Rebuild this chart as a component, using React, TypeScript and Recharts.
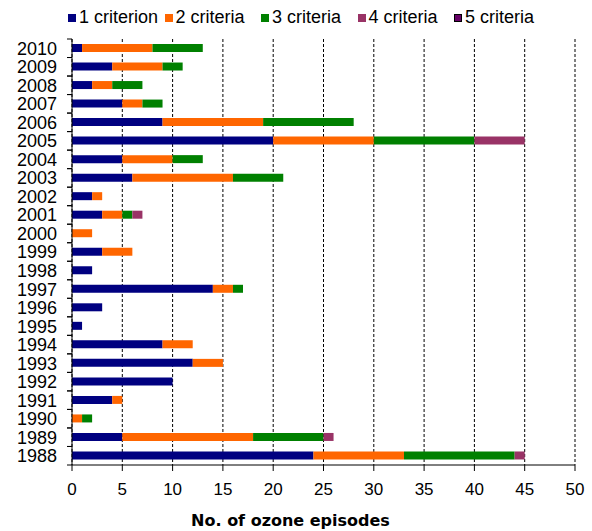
import React from "react";
import {
  BarChart,
  Bar,
  XAxis,
  YAxis,
  CartesianGrid,
} from "recharts";

const YEARS = [
  "1988", "1989", "1990", "1991", "1992", "1993", "1994", "1995", "1996", "1997", "1998", "1999",
  "2000", "2001", "2002", "2003", "2004", "2005", "2006", "2007", "2008", "2009", "2010",
];
const ONE = [24, 5, 0, 4, 10, 12, 9, 1, 3, 14, 2, 3, 0, 3, 2, 6, 5, 20, 9, 5, 2, 4, 1];
const TWO = [9, 13, 1, 1, 0, 3, 3, 0, 0, 2, 0, 3, 2, 2, 1, 10, 5, 10, 10, 2, 2, 5, 7];
const THREE = [11, 7, 1, 0, 0, 0, 0, 0, 0, 1, 0, 0, 0, 1, 0, 5, 3, 10, 9, 2, 3, 2, 5];
const FOUR = [1, 1, 0, 0, 0, 0, 0, 0, 0, 0, 0, 0, 0, 1, 0, 0, 0, 5, 0, 0, 0, 0, 0];
const FIVE = [0, 0, 0, 0, 0, 0, 0, 0, 0, 0, 0, 0, 0, 0, 0, 0, 0, 0, 0, 0, 0, 0, 0];
const X_TICKS = [0, 5, 10, 15, 20, 25, 30, 35, 40, 45, 50];

const SERIES = [
  { key: "c1", name: "1 criterion", color: "#000080", values: ONE },
  { key: "c2", name: "2 criteria", color: "#FF6600", values: TWO },
  { key: "c3", name: "3 criteria", color: "#008000", values: THREE },
  { key: "c4", name: "4 criteria", color: "#993366", values: FOUR },
  { key: "c5", name: "5 criteria", color: "#660066", values: FIVE },
];

const data = YEARS.map((year, i) => {
  const row: Record<string, string | number> = { year };
  SERIES.forEach((s) => (row[s.key] = s.values[i]));
  return row;
});

const W = 592;
const H = 531;
const M = { top: 39, right: 17, bottom: 0, left: 0 };
const Y_W = 72;
const X_H = 66;
const AXIS_X = M.left + Y_W;
const PLOT_H = H - M.top - M.bottom - X_H;
const BAND = PLOT_H / YEARS.length;
const FONT = "'Liberation Sans', Arial, sans-serif";

function YearTick(props: any) {
  const { y, payload } = props;
  return (
    <g>
      <line x1={AXIS_X - 5} x2={AXIS_X} y1={y - BAND / 2} y2={y - BAND / 2} stroke="#000" />
      <line x1={AXIS_X - 5} x2={AXIS_X} y1={y + BAND / 2} y2={y + BAND / 2} stroke="#000" />
      <text x={AXIS_X - 15} y={y} dy="0.36em" textAnchor="end" fontSize={18} fontFamily={FONT} fill="#000">
        {payload.value}
      </text>
    </g>
  );
}

function AxisTitle(props: any) {
  const { viewBox } = props;
  return (
    <text
      x={viewBox.x + viewBox.width / 2 - 33}
      y={viewBox.y + viewBox.height - 5}
      textAnchor="middle"
      fontSize={16}
      fontWeight="bold"
      fontFamily="'DejaVu Sans', Verdana, sans-serif"
      fill="#000"
    >
      No. of ozone episodes
    </text>
  );
}

export default function App() {
  return (
    <div style={{ position: "absolute", left: 0, top: 0, width: W, height: H, background: "#fff" }}>
      <div
        style={{
          position: "absolute",
          left: 68,
          top: 7,
          display: "flex",
          alignItems: "center",
          fontFamily: FONT,
          fontSize: 18,
          lineHeight: "21px",
          color: "#000",
        }}
      >
        {SERIES.map((s) => (
          <div key={s.key} style={{ display: "flex", alignItems: "center", width: 96.5, whiteSpace: "nowrap" }}>
            <span
              style={{
                display: "inline-block",
                width: 8,
                height: 8,
                background: s.color,
                boxSizing: "border-box",
                border: s.key === "c5" ? "1px solid #000" : "none",
                marginRight: 3,
              }}
            />
            <span>{s.name}</span>
          </div>
        ))}
      </div>
      <BarChart width={W} height={H} data={data} layout="vertical" margin={M} barSize={8}>
        <CartesianGrid horizontal={false} stroke="#000" strokeDasharray="3 2" />
        <XAxis
          type="number"
          domain={[0, 50]}
          ticks={X_TICKS}
          interval={0}
          height={X_H}
          tickSize={6}
          tickMargin={12}
          axisLine={{ stroke: "#000" }}
          tickLine={{ stroke: "#000" }}
          tick={{ fontSize: 17, fontFamily: FONT, fill: "#000" }}
          label={<AxisTitle />}
        />
        <XAxis
          xAxisId="top"
          orientation="top"
          type="number"
          domain={[0, 50]}
          height={0}
          tick={false}
          tickLine={false}
          axisLine={{ stroke: "#888", strokeWidth: 2 }}
        />
        <YAxis
          type="category"
          dataKey="year"
          reversed
          width={Y_W}
          interval={0}
          tickLine={false}
          axisLine={{ stroke: "#000" }}
          tick={<YearTick />}
        />
        <YAxis
          yAxisId="right"
          orientation="right"
          type="category"
          dataKey="year"
          reversed
          width={0}
          tick={false}
          tickLine={false}
          axisLine={{ stroke: "#888", strokeWidth: 2 }}
        />
        {SERIES.map((s) => (
          <Bar key={s.key} dataKey={s.key} name={s.name} stackId="a" fill={s.color} isAnimationActive={false} />
        ))}
      </BarChart>
    </div>
  );
}
